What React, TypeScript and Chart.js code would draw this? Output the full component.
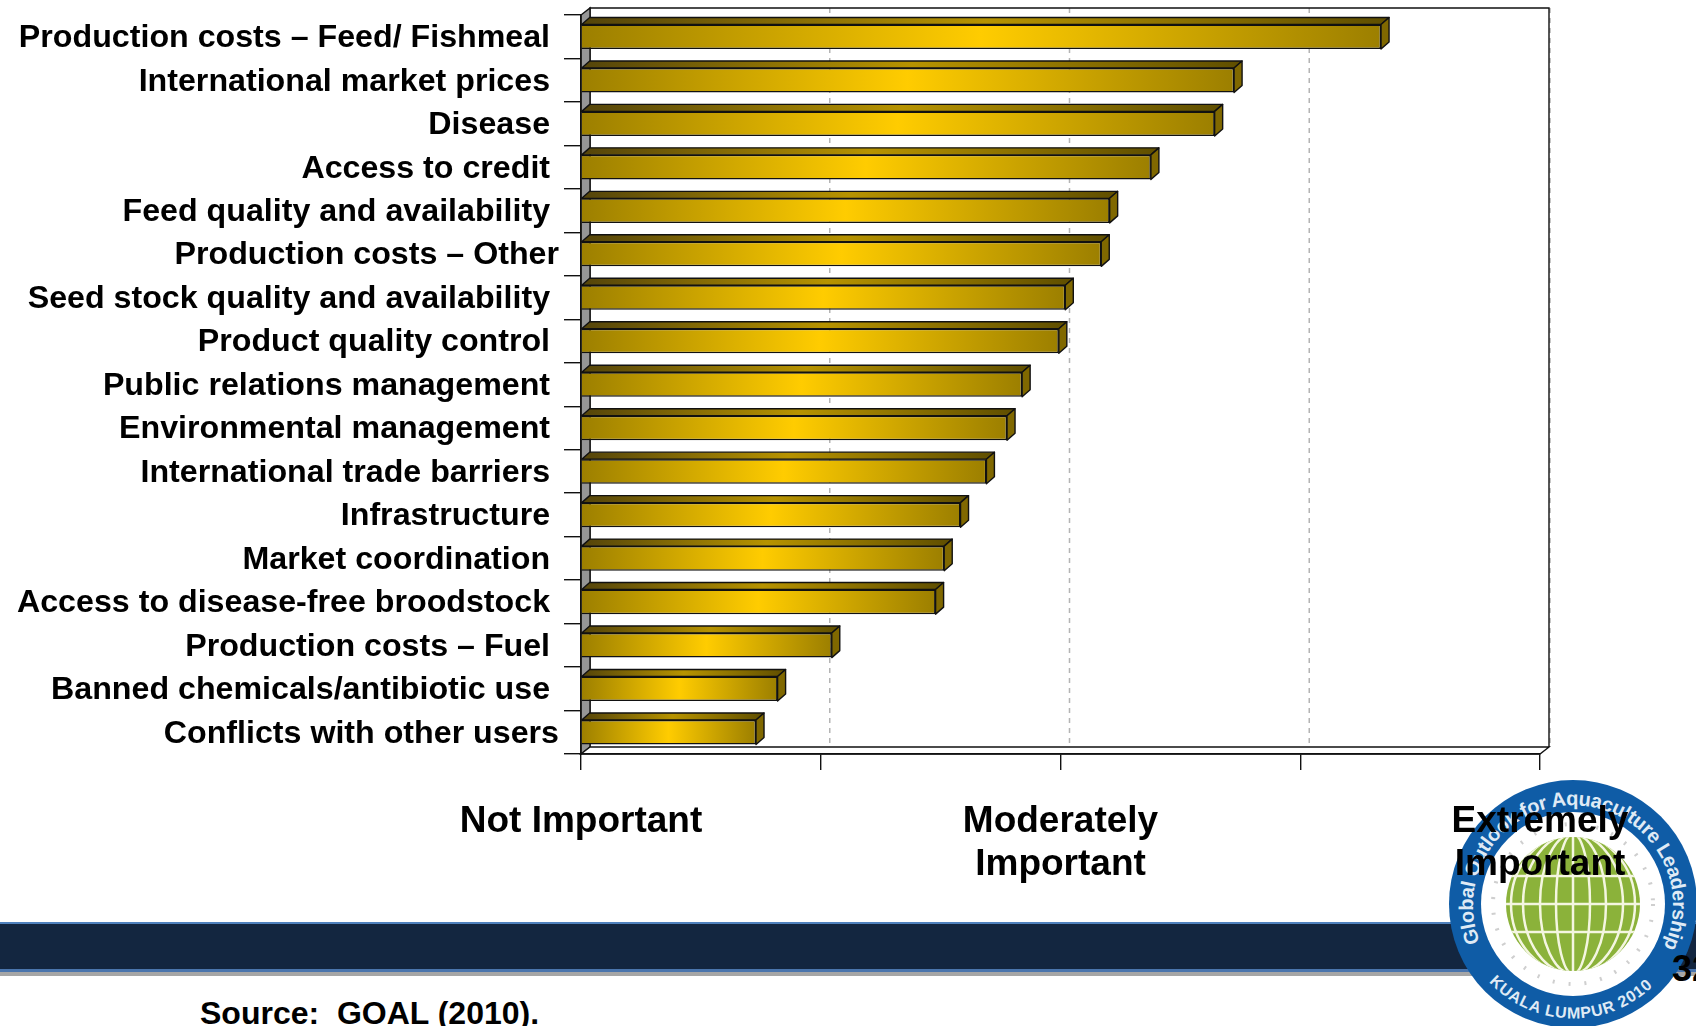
import React, { useEffect, useRef } from "react";
import { Chart, registerables } from "chart.js";

Chart.register(...registerables);

const categories = [
  "Production costs – Feed/ Fishmeal",
  "International market prices",
  "Disease",
  "Access to credit",
  "Feed quality and availability",
  "Production costs – Other",
  "Seed stock quality and availability",
  "Product quality control",
  "Public relations management",
  "Environmental management",
  "International trade barriers",
  "Infrastructure",
  "Market coordination",
  "Access to disease-free broodstock",
  "Production costs – Fuel",
  "Banned chemicals/antibiotic use",
  "Conflicts with other users",
];
const scores = [3.337, 2.724, 2.643, 2.377, 2.205, 2.17, 2.02, 1.993, 1.84, 1.777, 1.691, 1.583, 1.515, 1.479, 1.046, 0.82, 0.73];
const flushLabels = ["Production costs – Other", "Conflicts with other users"];
const scaleLabels: (string | string[])[] = ["Not Important", "", ["Moderately", "Important"], "", ["Extremely", "Important"]];
const sourceNote = "Source:  GOAL (2010).";
const pageNumber = "32";

const DX = 9;
const BAR_DX = 8;
const DY = 7;
const FONT = '"Liberation Sans", Arial, sans-serif';

const threeD = {
  id: "threeD",
  beforeDraw(chart: any) {
    const { ctx, chartArea: a, scales } = chart;
    const { left: l, right: r, top: t, bottom: b } = a;
    ctx.save();
    // back wall
    ctx.fillStyle = "#ffffff";
    ctx.fillRect(l + DX, t - DY, r - l, b - t);
    // grid lines on the back wall
    ctx.strokeStyle = "#b4b4b4";
    ctx.lineWidth = 1.5;
    ctx.setLineDash([5, 5]);
    [1, 2, 3, 4].forEach((v) => {
      const x = scales.x.getPixelForValue(v) + DX + (v === 4 ? 1 : 0);
      ctx.beginPath();
      ctx.moveTo(x, t - DY);
      ctx.lineTo(x, b - DY);
      ctx.stroke();
    });
    ctx.setLineDash([]);
    ctx.strokeStyle = "#111111";
    ctx.lineWidth = 1.4;
    // wall frame
    ctx.beginPath();
    ctx.moveTo(l + DX, b - DY);
    ctx.lineTo(l + DX, t - DY);
    ctx.lineTo(r + DX, t - DY);
    ctx.lineTo(r + DX, b - DY);
    ctx.stroke();
    // left side wall
    ctx.fillStyle = "#969696";
    ctx.beginPath();
    ctx.moveTo(l, t);
    ctx.lineTo(l + DX, t - DY);
    ctx.lineTo(l + DX, b - DY);
    ctx.lineTo(l, b);
    ctx.closePath();
    ctx.fill();
    ctx.stroke();
    // floor
    ctx.fillStyle = "#ffffff";
    ctx.beginPath();
    ctx.moveTo(l, b);
    ctx.lineTo(l + DX, b - DY);
    ctx.lineTo(r + DX, b - DY);
    ctx.lineTo(r, b);
    ctx.closePath();
    ctx.fill();
    ctx.stroke();
    ctx.restore();
  },
  afterDatasetsDraw(chart: any) {
    const { ctx } = chart;
    const bars = chart.getDatasetMeta(0).data;
    ctx.save();
    ctx.strokeStyle = "#111111";
    ctx.lineWidth = 1.4;
    ctx.lineJoin = "round";
    bars.forEach((el: any) => {
      const top = el.y - el.height / 2;
      const bottom = el.y + el.height / 2;
      const g = ctx.createLinearGradient(el.base, 0, el.x + BAR_DX, 0);
      g.addColorStop(0, "#54440a");
      g.addColorStop(0.5, "#b79300");
      g.addColorStop(1, "#5f4e00");
      ctx.fillStyle = g;
      ctx.beginPath();
      ctx.moveTo(el.base, top);
      ctx.lineTo(el.base + BAR_DX, top - DY);
      ctx.lineTo(el.x + BAR_DX, top - DY);
      ctx.lineTo(el.x, top);
      ctx.closePath();
      ctx.fill();
      ctx.stroke();
      ctx.fillStyle = "#806800";
      ctx.beginPath();
      ctx.moveTo(el.x, top);
      ctx.lineTo(el.x + BAR_DX, top - DY);
      ctx.lineTo(el.x + BAR_DX, bottom - DY);
      ctx.lineTo(el.x, bottom);
      ctx.closePath();
      ctx.fill();
      ctx.stroke();
    });
    ctx.restore();
  },
};

const globeMeridians = [17, 33, 50, 62];
const globeParallels = [-28, 0, 28];

function Logo() {
  const cx = 1573;
  const cy = 904;
  return (
    <svg width={1696} height={1026} style={{ position: "absolute", left: 0, top: 0 }}>
      <defs>
        <clipPath id="globeClip">
          <circle cx={cx} cy={cy} r={67} />
        </clipPath>
        <path id="ringTop" d={`M ${cx - 93} ${cy + 38} A 100 100 0 1 1 ${cx + 93} ${cy + 38}`} />
        <path id="ringBottom" d={`M ${cx - 84} ${cy + 78} A 115 115 0 0 0 ${cx + 84} ${cy + 78}`} />
      </defs>
      <circle cx={cx} cy={cy} r={124} fill="#0f5ca6" />
      <circle cx={cx} cy={cy} r={92} fill="#ffffff" />
      <circle cx={cx} cy={cy} r={80} fill="none" stroke="#cfcfcf" strokeWidth={4} strokeDasharray="2 14" />
      <circle cx={cx} cy={cy} r={67} fill="#8bb23a" />
      <g clipPath="url(#globeClip)" stroke="#f4f6e0" strokeWidth={2.5} fill="none">
        <line x1={cx} y1={cy - 67} x2={cx} y2={cy + 67} />
        {globeMeridians.map((rx) => (
          <ellipse key={rx} cx={cx} cy={cy} rx={rx} ry={70} />
        ))}
        {globeParallels.map((d) => (
          <line key={d} x1={cx - 70} y1={cy + d} x2={cx + 70} y2={cy + d} />
        ))}
      </g>
      <text fill="#dfeaf5" fontFamily={FONT} fontWeight="bold" fontSize={20}>
        <textPath href="#ringTop" textLength={395} lengthAdjust="spacing">
          Global Outlook for Aquaculture Leadership
        </textPath>
      </text>
      <text fill="#dfeaf5" fontFamily={FONT} fontWeight="bold" fontSize={16}>
        <textPath href="#ringBottom" textLength={182} lengthAdjust="spacing">
          KUALA LUMPUR 2010
        </textPath>
      </text>
    </svg>
  );
}

export default function App() {
  const ref = useRef<HTMLCanvasElement>(null);
  useEffect(() => {
    const chart = new Chart(ref.current as HTMLCanvasElement, {
      type: "bar",
      plugins: [threeD],
      data: {
        labels: categories,
        datasets: [
          {
            data: scores,
            categoryPercentage: 0.565,
            barPercentage: 1,
            borderColor: "#111111",
            borderWidth: 1.5,
            backgroundColor: (c: any) => {
              const { ctx, scales } = c.chart;
              const value = scores[c.dataIndex];
              if (!scales.x || value === undefined) return "#c8a000";
              const x0 = scales.x.getPixelForValue(0);
              const x1 = scales.x.getPixelForValue(value);
              if (!Number.isFinite(x0) || !Number.isFinite(x1)) return "#c8a000";
              const g = ctx.createLinearGradient(x0, 0, x1, 0);
              g.addColorStop(0, "#9c7f00");
              g.addColorStop(0.5, "#ffcc00");
              g.addColorStop(1, "#9c7f00");
              return g;
            },
          },
        ],
      },
      options: {
        indexAxis: "y",
        animation: false,
        responsive: false,
        devicePixelRatio: 1,
        layout: { padding: { top: 15, right: 156, left: 0, bottom: 0 } },
        plugins: { legend: { display: false }, tooltip: { enabled: false } },
        scales: {
          x: {
            min: 0,
            max: 4,
            afterFit: (s: any) => {
              s.height = 272;
            },
            border: { color: "#111111", width: 1.5 },
            grid: { drawOnChartArea: false, drawTicks: true, tickLength: 16, color: "#111111", lineWidth: 1.4 },
            ticks: {
              stepSize: 1,
              autoSkip: false,
              maxRotation: 0,
              padding: 30,
              color: "#000000",
              font: { family: FONT, weight: "bold", size: 37, lineHeight: 1.17 },
              callback: (v: any) => scaleLabels[Number(v)],
            },
          },
          y: {
            afterFit: (s: any) => {
              s.width = 581;
              s.paddingTop = 0;
              s.paddingBottom = 0;
            },
            border: { color: "#111111", width: 1.5 },
            grid: { drawOnChartArea: false, drawTicks: true, tickLength: 17, color: "#111111", lineWidth: 1.4, offset: true },
            ticks: {
              autoSkip: false,
              padding: 5,
              labelOffset: 1.5,
              color: "#000000",
              font: { family: FONT, weight: "bold", size: 32.2 },
              callback: (_: any, i: number) => (flushLabels.includes(categories[i]) ? categories[i] : categories[i] + "\u00a0"),
            },
          },
        },
      },
    } as any);
    return () => chart.destroy();
  }, []);

  return (
    <div style={{ position: "fixed", left: 0, top: 0, width: 1696, height: 1026, overflow: "hidden", background: "#ffffff", fontFamily: FONT }}>
      <div style={{ position: "absolute", left: 0, top: 922, width: 1696, height: 2, background: "#4f81bd" }} />
      <div style={{ position: "absolute", left: 0, top: 924, width: 1696, height: 45, background: "#132640" }} />
      <div style={{ position: "absolute", left: 0, top: 969, width: 1696, height: 3, background: "#4a75ad" }} />
      <div style={{ position: "absolute", left: 0, top: 972, width: 1696, height: 4, background: "#a6a6a6" }} />
      <Logo />
      <div style={{ position: "absolute", left: 1672, top: 948, fontSize: 36, fontWeight: "bold", lineHeight: "42px", color: "#000" }}>{pageNumber}</div>
      <div style={{ position: "absolute", left: 200, top: 995, fontSize: 32, fontWeight: "bold", lineHeight: "37px", color: "#000", whiteSpace: "pre" }}>{sourceNote}</div>
      <canvas ref={ref} width={1696} height={1026} style={{ position: "absolute", left: 0, top: 0, display: "block" }} />
    </div>
  );
}
